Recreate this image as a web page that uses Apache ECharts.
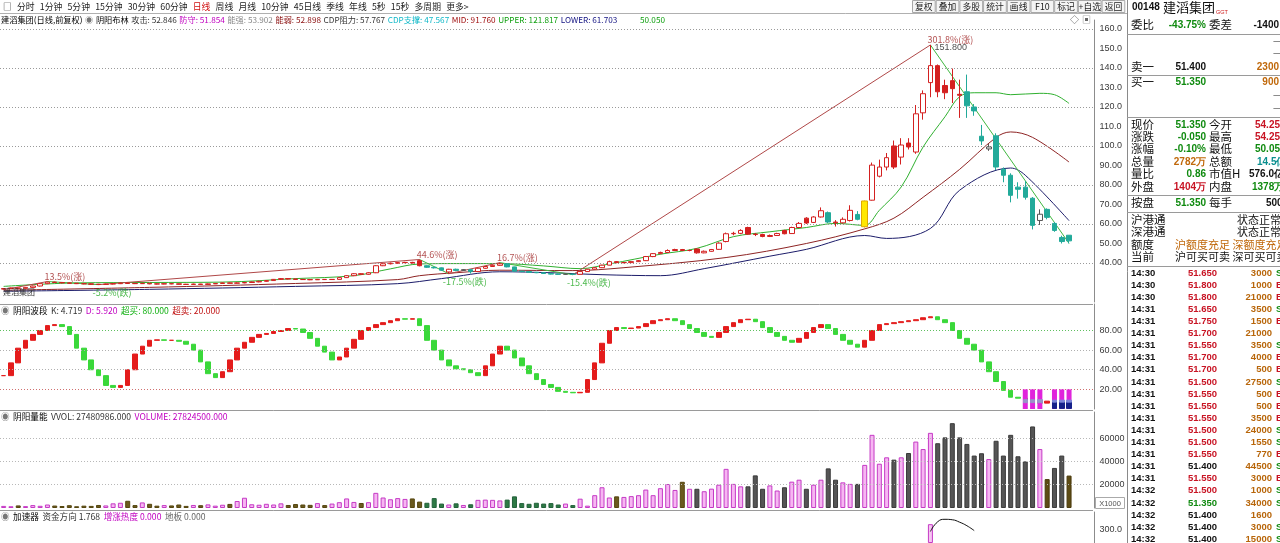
<!DOCTYPE html>
<html><head><meta charset="utf-8">
<script src="https://cdn.jsdelivr.net/npm/echarts@6/dist/echarts.min.js"></script>
<style>html,body{margin:0;padding:0;background:#fff;overflow:hidden}#c{width:1280px;height:543px}</style>
</head><body><div id="c"></div>
<script>
// ---------------- DATA ----------------
const SLOTS = 150;
const categories = Array.from({length: SLOTS}, (_, i) => 'D' + (i + 1));

const openP = [26.6,26.9,27.2,27.0,27.5,28.2,29.4,30.2,30.0,29.8,
29.6,29.4,29.3,29.1,29.0,29.2,29.4,29.7,29.5,29.4,
29.6,29.3,29.2,29.4,29.3,29.1,29.0,29.2,29.0,29.3,
29.5,29.8,29.6,29.8,30.0,30.3,30.6,31.0,31.6,32.0,
31.8,31.6,31.5,31.4,31.6,31.5,31.6,32.5,33.5,34.5,
34.2,35.0,38.6,39.6,39.9,40.2,40.3,41.2,38.6,37.8,
37.5,35.4,36.8,36.2,36.6,35.6,37.3,38.2,38.8,39.6,
38.0,35.8,35.6,35.2,35.0,34.6,34.3,34.2,34.3,34.2,
35.6,36.8,37.6,38.9,40.7,40.2,40.2,40.7,41.2,43.3,
44.8,45.4,46.4,46.9,46.4,47.2,45.2,46.0,47.0,51.0,
55.0,55.2,58.2,54.8,54.6,53.6,54.1,56.7,55.1,58.2,
63.0,60.8,63.6,65.8,61.0,60.6,61.8,64.9,58.6,72.2,
84.5,89.2,100.0,94.3,101.5,96.9,117.0,132.5,141.2,131.0,
133.5,126.5,127.8,120.0,105.0,98.5,105.2,88.1,85.0,78.9,
78.9,73.2,61.8,67.5,60.3,53.1,54.25];
const closeP = [26.9,27.2,27.0,27.5,28.2,29.4,30.2,30.0,29.8,29.6,
29.4,29.3,29.1,29.0,29.2,29.4,29.7,29.5,29.4,29.6,
29.3,29.2,29.4,29.3,29.1,29.0,29.2,29.0,29.3,29.5,
29.8,29.6,29.8,30.0,30.3,30.6,31.0,31.6,32.0,31.8,
31.6,31.5,31.4,31.6,31.5,31.6,32.5,33.5,34.5,34.2,
35.0,38.6,39.6,39.9,40.2,40.3,40.0,38.6,37.8,37.5,
36.3,36.8,36.2,36.6,35.6,37.3,38.2,38.8,39.6,38.0,
35.8,35.6,35.2,35.0,34.6,34.3,34.2,34.3,34.2,35.6,
36.8,37.6,38.9,40.7,40.2,40.2,40.7,41.2,43.3,44.8,
45.4,46.4,46.9,46.4,46.4,45.2,46.0,46.9,50.2,55.0,
55.2,56.7,54.8,54.6,53.6,54.1,55.1,55.0,58.2,60.3,
60.5,63.6,66.8,61.0,60.6,62.4,67.0,62.4,71.8,90.2,
89.2,94.0,89.2,100.5,99.5,116.5,126.8,141.2,127.8,127.3,
129.4,126.0,120.6,118.0,102.6,99.5,89.2,85.0,74.7,77.8,
73.7,59.3,65.0,63.4,56.7,51.0,51.35];
const lowP = [26.3,26.7,26.8,26.9,27.3,28.0,29.2,29.7,29.6,29.4,
29.2,29.1,28.9,28.9,28.9,29.0,29.2,29.3,29.2,29.3,
29.1,29.0,29.1,29.1,29.0,28.9,28.9,28.9,28.9,29.2,
29.4,29.5,29.5,29.6,29.9,30.1,30.4,30.9,31.4,31.6,
31.4,31.3,31.2,31.3,31.3,31.3,31.5,32.3,33.3,34.0,
34.0,34.8,38.4,39.3,39.6,39.9,39.8,38.3,37.5,37.2,
36.0,34.5,35.8,35.9,34.6,35.4,37.1,38.0,38.6,37.8,
35.6,35.3,35.0,34.8,34.4,34.1,34.0,34.0,34.0,34.1,
35.4,36.6,37.4,38.8,39.9,39.9,40.0,40.5,41.0,43.0,
44.5,45.2,46.2,46.1,46.0,44.8,45.0,45.8,46.8,50.6,
54.2,54.8,54.5,53.8,53.2,53.3,53.9,54.7,55.0,58.0,
60.0,60.5,63.3,60.5,58.7,60.2,61.3,61.9,58.2,72.0,
83.9,87.5,88.2,90.5,98.2,96.0,113.5,125.0,125.0,124.0,
122.0,114.4,114.4,115.5,100.5,97.5,87.6,81.4,71.1,73.0,
72.5,57.2,59.5,62.4,56.0,50.0,50.05];
const highP = [27.1,27.4,27.4,27.7,28.4,29.6,30.5,30.4,30.2,30.0,
29.8,29.6,29.5,29.3,29.4,29.6,29.9,29.9,29.7,29.8,
29.7,29.5,29.6,29.5,29.4,29.3,29.4,29.3,29.5,29.7,
30.0,30.0,30.1,30.3,30.5,30.9,31.2,31.8,32.3,32.2,
32.0,31.8,31.7,31.8,31.8,31.8,32.7,33.7,34.8,34.8,
35.3,38.9,39.9,40.2,40.5,40.6,40.6,41.8,38.8,38.1,
37.7,37.0,37.1,36.9,36.8,37.5,38.5,39.2,40.2,39.8,
38.1,36.0,35.8,35.4,35.2,34.8,34.5,34.5,34.5,35.8,
37.0,37.9,39.1,41.2,41.0,40.5,41.0,41.5,43.6,45.1,
45.8,47.0,47.3,47.2,46.9,47.5,46.4,47.2,50.6,55.6,
56.0,57.3,58.6,55.4,55.0,54.6,55.5,57.0,58.6,61.0,
63.5,64.0,68.5,66.4,62.0,63.4,69.6,66.6,72.0,91.5,
93.0,96.4,102.8,104.0,104.0,121.0,128.5,151.8,141.8,134.0,
139.7,134.0,136.6,121.5,110.8,101.0,106.5,89.0,86.0,81.4,
82.0,73.8,67.5,68.0,61.0,54.0,54.25];

// volume in thousands of shares (axis shows X1000)
const volumeK = [1800,1500,2200,1600,2500,1900,3000,2100,1700,2400,
1500,2000,1800,2600,2200,4000,4500,6200,2500,4800,
3600,2000,2500,2200,3000,1800,2600,2400,3100,2000,
2800,3500,6000,8800,3200,2800,3600,3000,4000,2600,
3400,3000,2700,4200,2500,3800,5000,8200,5200,4300,
5000,13000,9000,7500,8500,7800,8200,5500,4500,8500,
3800,3000,4000,2600,3200,7000,7200,7000,6500,7200,
10000,4200,3600,4500,3800,4200,3000,3800,2500,8000,
2000,11000,17800,9000,10000,9500,10200,11000,15800,11000,
17000,20600,15500,22500,16500,16500,14400,16600,20000,33600,
20700,18600,18600,28000,16500,19400,15000,17800,22600,24300,
16500,20000,24300,34000,24300,22000,20700,20700,37000,62800,
38000,43500,41500,43500,47200,57000,50600,64500,55600,60600,
72800,60600,55000,45000,47000,42000,57700,45000,62800,44400,
40000,70000,50600,24800,34400,45000,27824.5];
const shrinkDays = [143,146];   // low-volume down days (olive bars)

// 阴阳波段 K line
const kLine = [34,47,62,70,76,80,85,86,84,76,
62,50,40,34,24,22,24,40,56,64,
70,70.5,70,70,69,66,60,48,36,32,
38,50,62,68,73,76,77,79,80,82,
81.5,78,72,64,58,50,53,62,71,80,
83,86,88,90,92,91.5,92,85,70,60,
50,44,41,40,37,34,44,56,64,60,
52,44,36,30,25,22,18,17,16.5,17,
30,47,67,80,83,82,82.5,84,87,90,
91,92,90,86,82,78,74,73,78,84,
88,91,91.5,89,83,78,74,70,68,72,
78,83,86,82,76,70,66,63,70,80,
86,87,88,89,90,91,93,94,91,88,
80,72,66,60,48,38,28,19,12,11,
8.5,7.2,6.0,8.0,6.5,5.5,4.719];

// 阴阳布林 bands, read at sampled bars
const upperIdx = [0,10,20,30,40,48,53,57,62,68,74,79,83,90,95,100,105,110,114,118,120,123,126,129,131,133,136,138,142,144,146];
const upperVal = [28.0,29.8,30.0,30.2,32.0,33.5,37.0,39.5,39.7,39.7,38.5,37.1,39.5,44.5,47.5,53.5,56.0,58.2,60.3,59.3,67.0,79.0,99.5,115.0,125.3,127.3,127.3,126.3,127.0,126.3,121.817];
const midIdx = [0,20,40,54,57,62,68,78,85,99,110,118,122,126,131,136,138,141,146];
const midVal = [26.0,27.5,29.5,31.5,33.5,35.0,36.3,36.1,37.6,42.8,50.0,57.5,63.0,73.7,88.0,104.4,107.2,104.4,91.76];
const lowerIdx = [0,20,40,54,60,68,75,82,90,96,105,110,118,121,127,131,138,140,146];
const lowerVal = [25.5,26.5,28.0,29.4,32.0,35.5,35.0,34.0,33.5,37.1,43.5,47.0,54.1,52.6,57.7,77.3,88.7,85.0,61.703];

// zigzag turning points
const zigIdx = [0,6,13,57,61,68,78,127,146];
const zigVal = [26.3,30.5,28.9,41.8,34.5,40.2,34.0,151.8,50.05];
const zigText = ['','13.5%(涨)','-5.2%(跌)','44.6%(涨)','-17.5%(跌)','16.7%(涨)','-15.4%(跌)','301.8%(涨)',''];

const downTrendRanges = [[58,60],[62,64],[69,78],[113,113],[117,117],[132,146]];
const signalCandle = 118;
const peakIdx = 127;

const kdjSignalIdx = [140,141,142,144,145,146];
const kdjSignalLevel = 20;

const accelBarIdx = [127];
const accelBarVal = [425];
const accelLineIdx = [127,128,129,130,131,132,133];
const accelLineVal = [260,480,535,525,470,390,280];

const priceGridLines = [40,60,80,100,120,140,160];
const kdjGridLines = [20,40,60,80];
const volGridLines = [20000,40000,60000];

// texts
const toolbarItems = ['□','分时','1分钟','5分钟','15分钟','30分钟','60分钟','日线','周线','月线','10分钟','45日线','季线','年线','5秒','15秒','多周期','更多>'];
const toolButtons = ['复权','叠加','多股','统计','画线','F10','标记','+自选','返回'];
const titleItems = [['建滔集团(日线,前复权)','#000'],['◉','#777'],['阴阳布林','#000'],['攻击: 52.846','#333'],['防守: 51.854','#c000c0'],['能强: 53.902','#888'],['能弱: 52.898','#8b1010'],['CDP阻力: 57.767','#333'],['CDP支撑: 47.567','#10b8c8'],['MID: 91.760','#a01010'],['UPPER: 121.817','#10a010'],['LOWER: 61.703','#101080']];
const titleTail = ['50.050','#10a010'];
const kdjHeader = [['◉','#777'],['阴阳波段','#000'],['K: 4.719','#333'],['D: 5.920','#c000c0'],['超买: 80.000','#10b010'],['超卖: 20.000','#c01010']];
const volHeader = [['◉','#777'],['阴阳量能','#000'],['VVOL: 27480986.000','#333'],['VOLUME: 27824500.000','#c000c0']];
const accHeader = [['◉','#777'],['加速器','#000'],['资金方向 1.768','#333'],['增涨热度 0.000','#c000c0'],['地板 0.000','#666']];

const G='#0f8a0f', R='#c81424', K='#111', O='#c0680a', TL='#0a8f8f';
const quoteRows = [
 [25,'委比','-43.75%',G,'委差','-1400',K,'r'],
 [67,'卖一','51.400',K,'','2300',O,'r'],
 [82,'买一','51.350',G,'','900',O,'r'],
 [125,'现价','51.350',G,'今开','54.250',R,1255],
 [137,'涨跌','-0.050',G,'最高','54.250',R,1255],
 [149,'涨幅','-0.10%',G,'最低','50.050',G,1255],
 [162,'总量','2782万',O,'总额','14.5亿',TL,1257],
 [174,'量比','0.86',G,'市值H','576.0亿',K,1249],
 [187,'外盘','1404万',R,'内盘','1378万',G,1252],
 [203,'按盘','51.350',G,'每手','500',K,1266]
];
const hkRows = [[220,'沪港通','状态正常',K,1237],[232,'深港通','状态正常',K,1237],[245,'额度','沪额度充足 深额度充足',O,1175],[257,'当前','沪可买可卖 深可买可卖',K,1175]];
const prevClose = 51.40;
const tickTime = ['14:30','14:30','14:30','14:31','14:31','14:31','14:31','14:31','14:31','14:31','14:31','14:31','14:31','14:31','14:31','14:31','14:31','14:31','14:32','14:32','14:32','14:32','14:32'];
const tickPrice = [51.650,51.800,51.800,51.650,51.750,51.700,51.550,51.700,51.700,51.500,51.550,51.550,51.550,51.500,51.500,51.550,51.400,51.550,51.500,51.350,51.400,51.400,51.400];
const tickVol = [3000,1000,21000,3500,1500,21000,3500,4000,500,27500,500,500,3500,24000,1550,770,44500,3000,1000,34000,1600,3000,15000];
const tickSide = ['S','B','B','S','B','','S','B','B','S','B','B','B','S','S','B','S','B','S','S','','S','S'];

// ---------------- BUILD ----------------
const CJK = '"Noto Sans CJK SC","Noto Sans",sans-serif';
const NUM = '"Liberation Sans","DejaVu Sans",sans-serif';
const EMPTY = ['-','-','-','-'];
const isDown = i => downTrendRanges.some(([a,b]) => i >= a && i <= b);
const ohlc = i => [openP[i], closeP[i], lowP[i], highP[i]];
const redData = openP.map((_, i) => (!isDown(i) && i !== signalCandle) ? ohlc(i) : EMPTY);
const tealData = openP.map((_, i) => isDown(i) ? ohlc(i) : EMPTY);
const yellowData = openP.map((_, i) => i === signalCandle ? ohlc(i) : EMPTY);

const volData = volumeK.map((v, i) => {
  const up = closeP[i] >= openP[i];
  let st;
  if (up) st = {color:'#f6b6f2', borderColor:'#c53ac5', borderWidth:1};
  else if (shrinkDays.includes(i)) st = {color:'#5e4c14', borderColor:'#4a3a0c', borderWidth:1};
  else if (i < 95 && isDown(i)) st = {color:'#2e7a45', borderColor:'#22603a', borderWidth:1};
  else if (i < 95) st = {color:'#6b5a1e', borderColor:'#55460f', borderWidth:1};
  else st = {color:'#555555', borderColor:'#3a3a3a', borderWidth:1};
  return {value: v, itemStyle: st};
});

const kdjData = kLine.map((k, i) => { const p = i ? kLine[i-1] : k; return [p, k, Math.min(p,k), Math.max(p,k)]; });
const sigData = categories.map((_, i) => kdjSignalIdx.includes(i) ? kdjSignalLevel : '-');
const bandA = categories.map((_, i) => [140,141,142].includes(i) ? [6.5,9.5,6.5,9.5] : EMPTY);
const bandB = categories.map((_, i) => [144,145,146].includes(i) ? [0.6,7,0.6,7] : EMPTY);
const bandC = categories.map((_, i) => [144,145,146].includes(i) ? [7,9,7,9] : EMPTY);

const pairs = (idx, val) => idx.map((x, k) => [x, val[k]]);

function gridLines(gi, lines, colorFn) {
  return {type:'line', xAxisIndex:gi, yAxisIndex:gi, data:[], silent:true, z:1,
    markLine:{silent:true, symbol:'none', animation:false, label:{show:false},
      lineStyle:{type:[1,2], width:1, color:'#aaa'},
      data: lines.map(v => ({yAxis:v, lineStyle:{color:colorFn(v), type:[1,2], width:1}}))}};
}

const series = [];
series.push(gridLines(0, priceGridLines, () => '#9a9a9a'));
series.push(gridLines(1, kdjGridLines, v => v === 20 ? '#d07070' : v === 80 ? '#60c060' : '#b0b0b0'));
series.push(gridLines(2, volGridLines, () => '#b8b8b8'));

series.push({type:'line', name:'UPPER', xAxisIndex:0, yAxisIndex:0, data:pairs(upperIdx, upperVal), smooth:0.35, showSymbol:false, lineStyle:{color:'#2fb02f', width:1}, z:3, silent:true});
series.push({type:'line', name:'MID', xAxisIndex:0, yAxisIndex:0, data:pairs(midIdx, midVal), smooth:0.35, showSymbol:false, lineStyle:{color:'#8e2424', width:1}, z:3, silent:true});
series.push({type:'line', name:'LOWER', xAxisIndex:0, yAxisIndex:0, data:pairs(lowerIdx, lowerVal), smooth:0.35, showSymbol:false, lineStyle:{color:'#1c1c6a', width:1}, z:3, silent:true});
for (let k = 0; k < zigIdx.length - 1; k++) {
  const up = zigVal[k+1] > zigVal[k];
  series.push({type:'line', xAxisIndex:0, yAxisIndex:0, data:[[zigIdx[k], zigVal[k]],[zigIdx[k+1], zigVal[k+1]]], showSymbol:false, silent:true, z:3,
    lineStyle:{color: up ? '#b04848' : '#40b840', width:1}});
}
series.push({type:'candlestick', xAxisIndex:0, yAxisIndex:0, data:redData, barWidth:5, z:5, silent:true,
  itemStyle:{color:'#ffffff', color0:'#d42020', borderColor:'#d42020', borderColor0:'#d42020', borderWidth:1}});
series.push({type:'candlestick', xAxisIndex:0, yAxisIndex:0, data:tealData, barWidth:5, z:5, silent:true,
  itemStyle:{color:'#ffffff', color0:'#22aa9a', borderColor:'#555555', borderColor0:'#22aa9a', borderWidth:1}});
series.push({type:'candlestick', xAxisIndex:0, yAxisIndex:0, data:yellowData, barWidth:6, z:5, silent:true,
  itemStyle:{color:'#ffe800', color0:'#ffe800', borderColor:'#e0a800', borderColor0:'#e0a800', borderWidth:1}});
series.push({type:'scatter', xAxisIndex:0, yAxisIndex:0, symbolSize:0.1, z:6, silent:true,
  itemStyle:{color:'transparent'},
  label:{show:true, position:'right', distance:0, fontSize:9, fontFamily:CJK, formatter: p => zigText[p.dataIndex]},
  data: zigIdx.map((x, k) => {
    const up = k > 0 && zigVal[k] > zigVal[k-1];
    return {value:[x, zigVal[k]], label:{color: up ? '#a02828' : '#22a822', offset: up ? [-3,-5] : [-6,8]}};
  })});
series.push({type:'scatter', xAxisIndex:0, yAxisIndex:0, data:[[peakIdx, highP[peakIdx]]], symbolSize:0.1, z:6, silent:true,
  itemStyle:{color:'transparent'},
  label:{show:true, position:'right', distance:0, offset:[4,3], fontSize:9, fontFamily:NUM, color:'#222', formatter: p => p.value[1].toFixed(3)}});

series.push({type:'candlestick', xAxisIndex:1, yAxisIndex:1, data:kdjData, barWidth:5, z:4, silent:true,
  itemStyle:{color:'#e41c1c', color0:'#3ad83a', borderColor:'#e41c1c', borderColor0:'#3ad83a', borderWidth:1}});
series.push({type:'bar', xAxisIndex:1, yAxisIndex:1, data:sigData, barWidth:5, z:6, silent:true, itemStyle:{color:'#e024dc'}});
series.push({type:'candlestick', xAxisIndex:1, yAxisIndex:1, data:bandA, barWidth:5, z:7, silent:true, itemStyle:{color:'#9a90c8', color0:'#9a90c8', borderColor:'#9a90c8', borderColor0:'#9a90c8'}});
series.push({type:'candlestick', xAxisIndex:1, yAxisIndex:1, data:bandB, barWidth:5, z:7, silent:true, itemStyle:{color:'#15228a', color0:'#15228a', borderColor:'#15228a', borderColor0:'#15228a'}});
series.push({type:'candlestick', xAxisIndex:1, yAxisIndex:1, data:bandC, barWidth:5, z:7, silent:true, itemStyle:{color:'#7b88d8', color0:'#7b88d8', borderColor:'#7b88d8', borderColor0:'#7b88d8'}});

series.push({type:'bar', xAxisIndex:2, yAxisIndex:2, data:volData, barWidth:5, z:4, silent:true});

series.push({type:'bar', xAxisIndex:3, yAxisIndex:3, data:categories.map((_, i) => { const k = accelBarIdx.indexOf(i); return k >= 0 ? accelBarVal[k] : '-'; }), barWidth:5, z:4, silent:true,
  itemStyle:{color:'#f6c6f2', borderColor:'#c53ac5', borderWidth:1}});
series.push({type:'line', xAxisIndex:3, yAxisIndex:3, data:pairs(accelLineIdx, accelLineVal), smooth:0.5, showSymbol:false, silent:true, z:4, lineStyle:{color:'#111', width:1}});

const GW = 1094.6;
const grids = [
  {left:0, top:20, width:GW, height:282},
  {left:0, top:304, width:GW, height:105},
  {left:0, top:412, width:GW, height:96},
  {left:0, top:512, width:GW, height:51}
];
const xAxes = grids.map((_, gi) => ({type:'category', gridIndex:gi, data:categories, boundaryGap:true, show:false}));
const yBase = (gi, min, max, interval, fmt) => ({type:'value', gridIndex:gi, position:'right', min, max, interval,
  splitLine:{show:false}, axisTick:{show:false},
  axisLine:{show:true, lineStyle:{color:'#8c8c8c', width:1}},
  axisLabel:{show:true, margin:5, fontSize:9, fontFamily:NUM, color:'#3a3a3a', formatter: fmt, showMinLabel:true, showMaxLabel:true}});
const yAxes = [
  yBase(0, 20, 164.6, 10, v => (v >= 40 && v <= 160) ? (v >= 100 ? v.toFixed(1) : v.toFixed(2)) : ''),
  yBase(1, 0, 107, 20, v => kdjGridLines.includes(v) ? v.toFixed(2) : ''),
  yBase(2, 0, 82400, 20000, v => volGridLines.includes(v) ? String(v) : ''),
  yBase(3, 0, 700, 100, v => v === 300 ? '300.0' : '')
];

// graphics
const gfx = [];
const mctx = document.createElement('canvas').getContext('2d');
function tw(text, size, font) { mctx.font = size + 'px ' + font; return mctx.measureText(text).width; }
function txt(x, y, text, fill, size, o = {}) {
  return {type:'text', x, y, silent:true, z:100, style:{text, fill, fontSize:size, fontFamily:o.font || CJK, fontWeight:o.bold ? 'bold' : 'normal',
    align:o.align || 'left', textAlign:o.align || 'left', verticalAlign:'middle', textVerticalAlign:'middle'}};
}
function flow(items, x0, y, size, gap) {
  let x = x0;
  items.forEach(([t, c]) => { gfx.push(txt(x, y, t, c, size)); x += tw(t, size, CJK) + gap; });
  return x;
}
function line(x1, y1, x2, y2, c) { return {type:'line', silent:true, z:90, shape:{x1, y1, x2, y2}, style:{stroke:c, lineWidth:1}}; }

gfx.push(line(0, 13.5, 1127, 13.5, '#b0b0b0'));
gfx.push(line(0, 304.5, 1093, 304.5, '#9a9a9a'));
gfx.push(line(0, 410.5, 1093, 410.5, '#9a9a9a'));
gfx.push(line(0, 510.5, 1093, 510.5, '#9a9a9a'));
gfx.push(line(1127.5, 0, 1127.5, 543, '#8a8a8a'));
[34,75,117,195,212,266].forEach(y => gfx.push(line(1127, y + 0.5, 1280, y + 0.5, '#9a9a9a')));

flow(toolbarItems.map(t => [t, t === '日线' ? '#d01010' : '#222']), 3, 6.5, 8.8, 5.2);
const bx0 = 912, bw = 23.7;
toolButtons.forEach((t, k) => {
  gfx.push({type:'rect', silent:true, z:95, shape:{x:bx0 + k*bw + 0.5, y:0.5, width:bw - 1, height:12}, style:{fill:'#f5f5f5', stroke:'#a8a8a8', lineWidth:1}});
  gfx.push(txt(bx0 + k*bw + bw/2, 6.8, t, '#222', 8.8, {align:'center'}));
});
const titleEnd = flow(titleItems, 1, 19.5, 8.2, 2.6);
gfx.push(txt(Math.max(640, titleEnd + 3), 19.5, titleTail[0], titleTail[1], 8.2));
gfx.push(txt(1070, 20, '◇', '#666', 9));
gfx.push(txt(1082, 20, '▣', '#666', 9));
gfx.push(txt(3, 292, '建滔集团', '#333', 8));
flow(kdjHeader, 1, 310.5, 8.6, 3.5);
flow(volHeader, 1, 416.5, 8.6, 3.5);
flow(accHeader, 1, 516.5, 8.6, 3.5);
gfx.push({type:'rect', silent:true, z:95, shape:{x:1095.5, y:497.5, width:29, height:11}, style:{fill:'#fff', stroke:'#aaa', lineWidth:1}});
gfx.push(txt(1110, 503.5, 'X1000', '#555', 7.5, {font:NUM, align:'center'}));

gfx.push(txt(1132, 7, '00148', '#111', 10, {font:NUM, bold:true}));
gfx.push(txt(1163, 7.5, '建滔集团', '#111', 13));
gfx.push(txt(1216, 12, 'GGT', '#d02020', 5.5, {font:NUM}));
quoteRows.forEach(([y, l1, v1, c1, l2, v2, c2, pos]) => {
  gfx.push(txt(1131, y, l1, '#111', 11.5));
  gfx.push(txt(1206, y, v1, c1, 10, {font:NUM, bold:true, align:'right'}));
  if (l2) gfx.push(txt(1209, y, l2, '#111', 11.5));
  if (pos === 'r') gfx.push(txt(1279, y, v2, c2, 10, {font:NUM, bold:true, align:'right'}));
  else gfx.push(txt(pos, y, v2, c2, 10, {font:NUM, bold:true}));
});
[41, 53, 95, 108].forEach(y => gfx.push(txt(1273, y, '—', '#333', 9)));
hkRows.forEach(([y, l, v, c, x]) => {
  gfx.push(txt(1131, y, l, '#111', 11.5));
  gfx.push(txt(x, y, v, c, 11));
});
tickTime.forEach((t, k) => {
  const y = 273 + k * 12.1;
  const p = tickPrice[k];
  const pc = p > prevClose ? '#c81424' : (p < prevClose ? '#108a10' : '#111');
  gfx.push(txt(1131, y, t, '#111', 9.5, {font:NUM, bold:true}));
  gfx.push(txt(1217, y, p.toFixed(3), pc, 9.5, {font:NUM, bold:true, align:'right'}));
  gfx.push(txt(1272, y, String(tickVol[k]), '#b8660a', 9.5, {font:NUM, bold:true, align:'right'}));
  if (tickSide[k]) gfx.push(txt(1276, y, tickSide[k], tickSide[k] === 'B' ? '#c81424' : '#108a10', 9.5, {font:NUM, bold:true}));
});

const chart = echarts.init(document.getElementById('c'), null, {renderer:'canvas'});
chart.setOption({
  animation:false,
  backgroundColor:'#ffffff',
  grid:grids, xAxis:xAxes, yAxis:yAxes,
  series, graphic:{elements:gfx}
});
</script></body></html>
